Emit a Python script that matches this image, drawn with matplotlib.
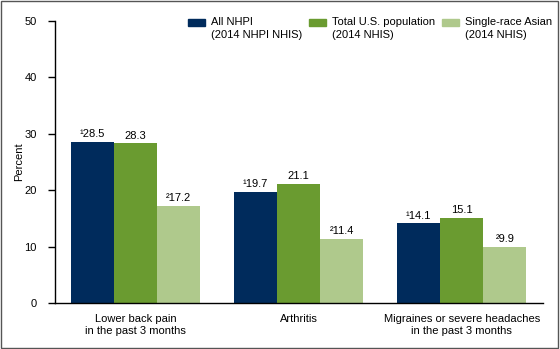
import matplotlib.pyplot as plt
import matplotlib.patches as mpatches
import numpy as np

plt.rcParams['font.family'] = ['Liberation Sans', 'DejaVu Sans']

categories = ['Lower back pain\nin the past 3 months', 'Arthritis',
              'Migraines or severe headaches\nin the past 3 months']
series_names = ['All NHPI\n(2014 NHPI NHIS)', 'Total U.S. population\n(2014 NHIS)',
                'Single-race Asian\n(2014 NHIS)']
nhpi = [28.5, 19.7, 14.1]
total_us = [28.3, 21.1, 15.1]
asian = [17.2, 11.4, 9.9]
label_prefix = ['\u00b9', '', '\u00b2']

colors = ['#002b5c', '#6a9b30', '#afc98c']

fig = plt.figure(figsize=(5.6, 3.49), dpi=100)
ax = fig.add_axes([0.098, 0.132, 0.872, 0.808])

x = np.arange(len(categories))
width = 0.265
for k, (vals, col) in enumerate(zip([nhpi, total_us, asian], colors)):
    pos = x + (k - 1) * width
    ax.bar(pos, vals, width, color=col, edgecolor='none')
    for p, v in zip(pos, vals):
        ax.text(p, v + 0.5, f'{label_prefix[k]}{v}', ha='center', va='bottom', fontsize=8)

ax.set_xlim(-0.494, 2.5)
ax.set_ylim(0, 50)
ax.set_yticks([0, 10, 20, 30, 40, 50])
ax.set_xticks(x)
ax.set_xticklabels(categories, fontsize=8, linespacing=1.3)
ax.tick_params(axis='x', length=0, pad=8)
ax.tick_params(axis='y', labelsize=8, direction='out', length=5, width=1, pad=8)
ax.set_ylabel('Percent', fontsize=8)
ax.yaxis.set_label_coords(-0.062, 0.5)
for s in ['top', 'right']:
    ax.spines[s].set_visible(False)
ax.spines['left'].set_linewidth(1)
ax.spines['bottom'].set_linewidth(1)

# legend drawn manually to match the layout
leg_x = [188, 309, 442]
for lx, name, col in zip(leg_x, series_names, colors):
    fig.add_artist(mpatches.Rectangle((lx / 560, 1 - 26 / 349), 17 / 560, 7 / 349,
                                      transform=fig.transFigure, color=col))
    fig.text((lx + 23) / 560, 1 - 17 / 349, name, fontsize=8, va='top', linespacing=1.35)

# border around the figure
fig.add_artist(mpatches.Rectangle((0.002, 0.003), 0.995, 0.994, transform=fig.transFigure,
                                  fill=False, edgecolor='#555555', linewidth=1))

fig.savefig('out.png', dpi=100)
